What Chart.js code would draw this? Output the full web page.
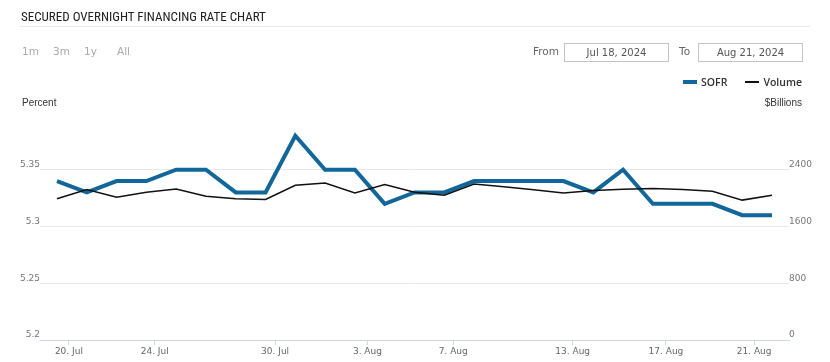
<!DOCTYPE html>
<html>
<head>
<meta charset="utf-8">
<script src="https://cdn.jsdelivr.net/npm/chart.js@4.4.1/dist/chart.umd.min.js"></script>
<style>
  body { margin: 0; background: #fff; font-family: "DejaVu Sans", sans-serif; }
  #page { position: relative; width: 830px; height: 362px; overflow: hidden; }
  #page canvas { position: absolute; left: 0; top: 0; }
  .abs { position: absolute; white-space: nowrap; }
  #title { left: 21px; top: 9px; font: 13px "Liberation Sans Narrow", "Roboto Condensed", Roboto, sans-serif; color: #222; line-height: 16px; }
  #rule { left: 20px; top: 26px; width: 790px; height: 1px; background: #e6e6e6; }
  .range { top: 45px; font-size: 10.5px; line-height: 12px; color: #aaa; }
  .lbl { top: 45px; font-size: 10.5px; line-height: 12px; color: #666; }
  .box { top: 43px; width: 103px; height: 17px; border: 1px solid #c4c4c4; font-size: 10px; line-height: 17px; color: #555; text-align: center; }
  #legend { right: 28px; top: 76px; display: flex; align-items: center; font: 600 10.5px "Open Sans", sans-serif; color: #333; line-height: 12px; }
  #legend i { display: inline-block; width: 14px; margin-right: 4px; }
  .axt { top: 97px; font: 10px "Liberation Sans", Arial, sans-serif; color: #333; line-height: 12px; }
</style>
</head>
<body>
<div id="page">
  <canvas id="sofrChart" width="830" height="362"></canvas>
  <div class="abs" id="title">SECURED OVERNIGHT FINANCING RATE CHART</div>
  <div class="abs" id="rule"></div>
  <div class="abs range" style="left:22px">1m</div>
  <div class="abs range" style="left:53px">3m</div>
  <div class="abs range" style="left:84px">1y</div>
  <div class="abs range" style="left:117px">All</div>
  <div class="abs lbl" style="left:533px">From</div>
  <div class="abs box" style="left:564px">Jul 18, 2024</div>
  <div class="abs lbl" style="left:679px">To</div>
  <div class="abs box" style="left:698px">Aug 21, 2024</div>
  <div class="abs" id="legend">
    <i style="height:4px;background:#11679a"></i><span>SOFR</span>
    <i style="height:2px;background:#111;margin-left:18px"></i><span>Volume</span>
  </div>
  <div class="abs axt" style="left:22px">Percent</div>
  <div class="abs axt" style="right:28px">$Billions</div>
</div>
<script>
// business days shown in the chart
var dates = ["Jul 18", "Jul 19", "Jul 22", "Jul 23", "Jul 24", "Jul 25", "Jul 26", "Jul 29", "Jul 30", "Jul 31",
  "Aug 1", "Aug 2", "Aug 5", "Aug 6", "Aug 7", "Aug 8", "Aug 9", "Aug 12", "Aug 13", "Aug 14",
  "Aug 15", "Aug 16", "Aug 19", "Aug 20", "Aug 21"];

// SOFR, percent
var sofr = [5.34, 5.33, 5.34, 5.34, 5.35, 5.35, 5.33, 5.33, 5.38, 5.35,
  5.35, 5.32, 5.33, 5.33, 5.34, 5.34, 5.34, 5.34, 5.33, 5.35,
  5.32, 5.32, 5.32, 5.31, 5.31];

// volume, $ billions
var volume = [1991, 2121, 2013, 2083, 2130, 2027, 1991, 1981, 2181, 2214,
  2074, 2190, 2083, 2041, 2200, 2160, 2118, 2074, 2107, 2125,
  2135, 2120, 2097, 1972, 2041];

// x axis labels and where they sit on the (ordinal) day index
var xTickLabels = ["20. Jul", "24. Jul", "30. Jul", "3. Aug", "7. Aug", "13. Aug", "17. Aug", "21. Aug"];
var xTickPos = [0.4, 3.28, 7.32, 10.42, 13.3, 17.31, 20.44, 23.4];

var tickFont = { family: "DejaVu Sans", size: 9 };

function toPoints(values) {
  return values.map(function (v, i) { return { x: i, y: v }; });
}

var ctx = document.getElementById("sofrChart").getContext("2d");

var sofrChart = new Chart(ctx, {
  type: "line",
  data: {
    datasets: [
      {
        label: "SOFR",
        data: toPoints(sofr),
        yAxisID: "y",
        borderColor: "#11679a",
        borderWidth: 4,
        pointRadius: 0,
        tension: 0,
        order: 1,
      },
      {
        label: "Volume",
        data: toPoints(volume),
        yAxisID: "y2",
        borderColor: "#111",
        borderWidth: 1.5,
        pointRadius: 0,
        tension: 0,
        order: 0,
      },
    ],
  },
  options: {
    responsive: false,
    animation: false,
    layout: { padding: { top: 113, right: 11, left: 0, bottom: 0 } },
    plugins: {
      legend: { display: false },
      tooltip: {
        callbacks: {
          title: function (items) { return dates[items[0].parsed.x]; },
        },
      },
    },
    scales: {
      x: {
        type: "linear",
        min: -0.57,
        max: 24.57,
        afterBuildTicks: function (scale) {
          scale.ticks = xTickPos.map(function (v) { return { value: v }; });
        },
        afterFit: function (scale) { scale.height = 22; },
        ticks: {
          autoSkip: false,
          maxRotation: 0,
          padding: 1,
          color: "#666",
          font: tickFont,
          callback: function (value, index) { return xTickLabels[index]; },
        },
        grid: { drawOnChartArea: false, drawTicks: true, tickLength: 5, color: "#ccd6eb" },
        border: { display: true, color: "#ccd6eb" },
      },
      y: {
        position: "left",
        min: 5.2,
        max: 5.4,
        afterFit: function (scale) { scale.width = 40; },
        ticks: {
          stepSize: 0.05,
          padding: 0,
          labelOffset: -5,
          color: "#777",
          font: tickFont,
          callback: function (value, index, ticks) {
            if (index === ticks.length - 1) return null;
            return String(+value.toFixed(2));
          },
        },
        grid: { color: "#e6e8ee", drawTicks: false },
        border: { display: false },
      },
      y2: {
        position: "right",
        min: 0,
        max: 3200,
        afterFit: function (scale) { scale.width = 30; },
        ticks: {
          stepSize: 800,
          padding: 0,
          labelOffset: -5,
          color: "#777",
          font: tickFont,
          callback: function (value, index, ticks) {
            if (index === ticks.length - 1) return null;
            return String(value);
          },
        },
        grid: { drawOnChartArea: false, drawTicks: false },
        border: { display: false },
      },
    },
  },
});
</script>
</body>
</html>
